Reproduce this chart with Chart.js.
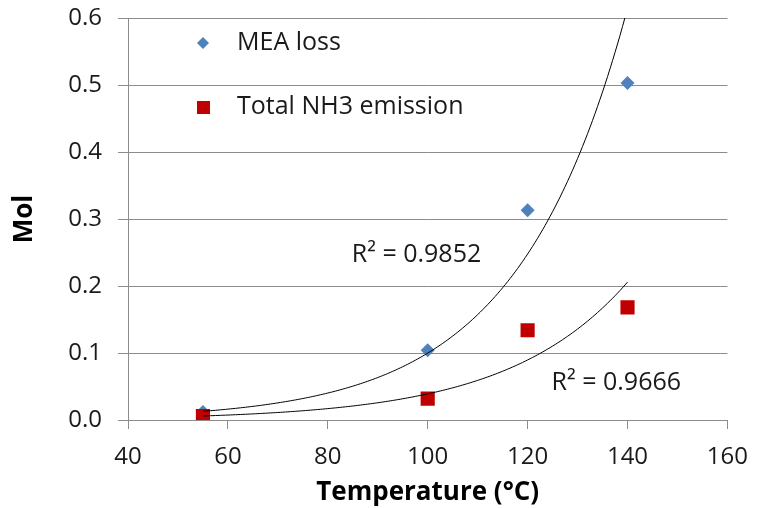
<!DOCTYPE html>
<html lang="en">
<head>
    <meta charset="UTF-8">
    <title>MEA loss and NH3 emission vs temperature</title>
    <script src="https://cdn.jsdelivr.net/npm/chart.js"></script>
    <style>
        body, html {
            margin: 0;
            padding: 0;
            background: #fff;
        }
        .container {
            width: 762px;
            height: 508px;
        }
    </style>
</head>
<body>
    <div class="container">
        <canvas id="lossChart" width="762" height="508"></canvas>
    </div>

    <script>
        // values
        const temperatures = [55, 100, 120, 140];
        const meaLoss = [0.012, 0.104, 0.313, 0.503];
        const nh3Emission = [0.006, 0.032, 0.134, 0.168];
        const seriesNames = ['MEA loss', 'Total NH3 emission'];
        const r2Labels = ['R² = 0.9852', 'R² = 0.9666'];
        const xTitle = 'Temperature (°C)';
        const yTitle = 'Mol';

        const FONT = '"Open Sans", "Liberation Sans", sans-serif';
        const TEXT = '#1a1a1a';
        const GRID = '#8c8c8c';

        // Excel style exponential trendline (least squares on ln y)
        function expTrend(xs, ys) {
            const n = xs.length;
            const ly = ys.map(v => Math.log(v));
            const mx = xs.reduce((a, b) => a + b, 0) / n;
            const my = ly.reduce((a, b) => a + b, 0) / n;
            let sxy = 0, sxx = 0;
            for (let i = 0; i < n; i++) {
                sxy += (xs[i] - mx) * (ly[i] - my);
                sxx += (xs[i] - mx) * (xs[i] - mx);
            }
            const b = sxy / sxx;
            const a = Math.exp(my - b * mx);
            const pts = [];
            const x0 = Math.min(...xs), x1 = Math.max(...xs);
            for (let x = x0; x <= x1 + 1e-9; x += 0.5) {
                pts.push({ x: x, y: a * Math.exp(b * x) });
            }
            return pts;
        }

        const toPoints = ys => temperatures.map((t, i) => ({ x: t, y: ys[i] }));

        // legend and R² labels drawn inside the plot area
        const insideText = {
            id: 'insideText',
            afterDatasetsDraw(chart) {
                const { ctx, chartArea, scales } = chart;
                ctx.save();
                ctx.font = '25px ' + FONT;
                ctx.fillStyle = TEXT;
                ctx.textBaseline = 'middle';
                ctx.textAlign = 'left';

                const mx = chartArea.left + 75;
                const rows = [chartArea.top + 25, chartArea.top + 89];
                // diamond
                ctx.fillStyle = '#4f81bd';
                ctx.beginPath();
                ctx.moveTo(mx - 6, rows[0]);
                ctx.lineTo(mx, rows[0] - 6);
                ctx.lineTo(mx + 6, rows[0]);
                ctx.lineTo(mx, rows[0] + 6);
                ctx.closePath();
                ctx.fill();
                // square
                ctx.fillStyle = '#c00000';
                ctx.fillRect(mx - 6, rows[1] - 6, 13, 13);

                ctx.fillStyle = TEXT;
                ctx.fillText(seriesNames[0], mx + 34, rows[0]);
                ctx.fillText(seriesNames[1], mx + 34, rows[1]);

                ctx.fillText(r2Labels[0], scales.x.getPixelForValue(84.8), scales.y.getPixelForValue(0.247));
                ctx.fillText(r2Labels[1], scales.x.getPixelForValue(124.8), scales.y.getPixelForValue(0.055));
                ctx.restore();
            }
        };

        const ctx = document.getElementById('lossChart').getContext('2d');
        const lossChart = new Chart(ctx, {
            type: 'scatter',
            data: {
                datasets: [
                    {
                        label: 'MEA trend',
                        data: expTrend(temperatures, meaLoss),
                        showLine: true,
                        borderColor: '#000',
                        borderWidth: 1,
                        pointRadius: 0,
                        order: 1
                    },
                    {
                        label: 'NH3 trend',
                        data: expTrend(temperatures, nh3Emission),
                        showLine: true,
                        borderColor: '#000',
                        borderWidth: 1,
                        pointRadius: 0,
                        order: 2
                    },
                    {
                        label: seriesNames[0],
                        data: toPoints(meaLoss),
                        pointStyle: 'rectRot',
                        pointRadius: 7,
                        backgroundColor: '#4f81bd',
                        borderColor: '#4f81bd',
                        borderWidth: 0,
                        order: 4
                    },
                    {
                        label: seriesNames[1],
                        data: toPoints(nh3Emission),
                        pointStyle: 'rect',
                        pointRadius: 10,
                        backgroundColor: '#c00000',
                        borderColor: '#c00000',
                        borderWidth: 0,
                        order: 3
                    }
                ]
            },
            options: {
                responsive: false,
                animation: false,
                layout: { padding: { left: 0, right: 33, top: 18, bottom: 0 } },
                plugins: {
                    legend: { display: false },
                    tooltip: { enabled: false }
                },
                scales: {
                    x: {
                        type: 'linear',
                        min: 40,
                        max: 160,
                        ticks: { stepSize: 20, padding: 14, color: TEXT, font: { family: FONT, size: 24 } },
                        grid: { drawOnChartArea: false, drawTicks: true, tickLength: 9, color: GRID, tickColor: GRID },
                        border: { color: GRID, width: 1 },
                        title: { display: true, text: xTitle, color: '#000', font: { family: FONT, size: 26, weight: 'bold' }, padding: { top: 0, bottom: 0 } },
                        afterFit(scale) { scale.height = 88; }
                    },
                    y: {
                        min: 0,
                        max: 0.6,
                        ticks: {
                            stepSize: 0.1,
                            padding: 16,
                            color: TEXT,
                            font: { family: FONT, size: 24 },
                            callback: v => v.toFixed(1)
                        },
                        grid: { color: GRID, tickLength: 10, tickColor: GRID },
                        border: { color: GRID, width: 1 },
                        title: { display: true, text: yTitle, color: '#000', font: { family: FONT, size: 26, weight: 'bold' }, padding: { top: 9, bottom: 0 } },
                        afterFit(scale) {
                            scale.width = 128;
                            scale.paddingTop = 0;
                        }
                    }
                }
            },
            plugins: [insideText]
        });
    </script>
</body>
</html>
